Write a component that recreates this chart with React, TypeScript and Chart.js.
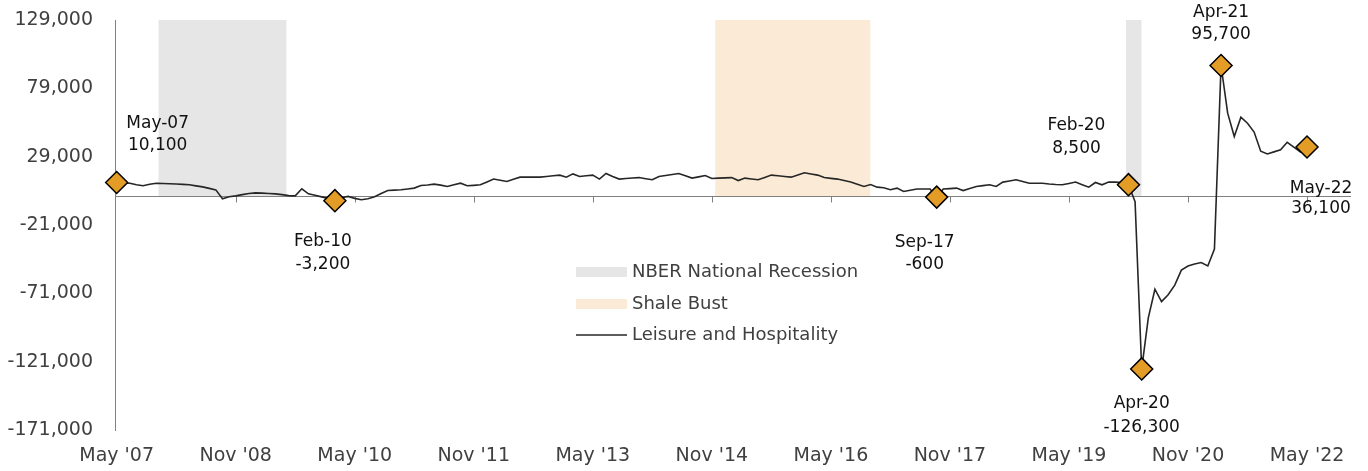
import React, { useEffect, useRef } from 'react';
import { Chart, registerables } from 'chart.js';

Chart.register(...registerables);

// Monthly year-over-year change, May 2007 (index 0) .. May 2022 (index 180)
const seriesValues: number[] = [
  10100, 9800, 9600, 8500, 7700, 8800, 9600, 9400, 9200, 9000,
  8700, 8400, 7600, 6900, 5800, 4700, -1800, -300, 300, 1200,
  2000, 2500, 2300, 2000, 1800, 1200, 500, 300, 5500, 1800,
  700, -400, -1500, -3200, -1000, -100, -1500, -2500, -1800, -300,
  2000, 4200, 4500, 4800, 5400, 6000, 7900, 8300, 8900, 8200,
  7200, 8500, 9600, 7700, 8000, 8400, 10500, 12600, 11700, 10800,
  12500, 14000, 14000, 14000, 14000, 14500, 15000, 15500, 14000, 16400,
  14500, 15000, 15500, 12600, 16700, 14500, 12600, 13000, 13400, 13700,
  12900, 12100, 14500, 15200, 16000, 16700, 15000, 13300, 14200, 15200,
  13000, 13300, 13500, 13700, 11500, 13300, 12700, 12100, 13800, 15500,
  15000, 14500, 14000, 15600, 17200, 16300, 15500, 13700, 13100, 12600,
  11500, 10400, 8800, 7200, 8600, 6700, 6300, 4800, 6000, 3500,
  4400, 5300, 5300, 5300, -600, 5300, 5600, 6000, 4200, 5700,
  7200, 7800, 8400, 7200, 10400, 11200, 12100, 10800, 9600, 9600,
  9600, 9000, 8600, 8400, 9400, 10400, 8500, 6700, 10100, 8400,
  10400, 10400, 10000, 8500, -4000, -126300, -89000, -68000, -77000, -72000,
  -65000, -54000, -51000, -49500, -48500, -51000, -38600, 95700, 60800, 43700,
  57900, 53500, 47000, 33000, 31000, 32500, 34000, 39500, 36000, 32500,
  36100,
];

const xAxisMin = -0.25;
const xAxisMax = 186.65; // axis runs on to late 2022
const xTickIdx: number[] = [0, 18, 36, 54, 72, 90, 108, 126, 144, 162, 180];
const xTickLabels: string[] = [
  "May '07", "Nov '08", "May '10", "Nov '11", "May '13", "Nov '14",
  "May '16", "Nov '17", "May '19", "Nov '20", "May '22",
];
const yTickValues: number[] = [129000, 79000, 29000, -21000, -71000, -121000, -171000];

const markerIdx: number[] = [0, 33, 124, 153, 155, 167, 180];
const markerLabels: string[] = ['May-07', 'Feb-10', 'Sep-17', 'Feb-20', 'Apr-20', 'Apr-21', 'May-22'];

// shaded periods as [start, end] in month index units
const recessionPeriods: number[][] = [[6.3, 25.7], [152.6, 155.0]];
const shalePeriods: number[][] = [[90.5, 114.0]];
const bandTop = 129000;

// label placement relative to marker: [dx, dy line1, dy line2]
const labelOffsets: number[][] = [
  [41, -59, -37],
  [-12, 41, 64],
  [-12, 45, 67],
  [-52, -59, -36],
  [0, 35, 59],
  [0, -53, -31],
  [14, 42, 62],
];

const FONT = '"DejaVu Sans", sans-serif';
const GRAY_BAND = '#E6E6E6';
const BEIGE_BAND = '#FAEAD6';
const LINE_COLOR = '#262626';
const MARKER_COLOR = '#E39C25';
const AXIS_COLOR = '#808080';
const TEXT_COLOR = '#404040';

const fmt = (v: number) => v.toLocaleString('en-US');

const zeroLinePlugin = {
  id: 'zeroLine',
  beforeDatasetDraw(chart: any, args: any) {
    if (args.index !== 1) return;
    const { ctx, chartArea, scales } = chart;
    const x = scales.x;
    const y = scales.y;
    const y0 = Math.round(y.getPixelForValue(0)) + 0.5;
    ctx.save();
    ctx.strokeStyle = AXIS_COLOR;
    ctx.lineWidth = 1;
    ctx.beginPath();
    ctx.moveTo(chartArea.left, y0);
    ctx.lineTo(chartArea.right, y0);
    xTickIdx.forEach((i) => {
      if (i === 0) return;
      const px = Math.round(x.getPixelForValue(i)) + 0.5;
      ctx.moveTo(px, y0);
      ctx.lineTo(px, y0 + 6);
    });
    ctx.stroke();
    ctx.restore();
  },
};

const annotationPlugin = {
  id: 'markerLabels',
  afterDatasetsDraw(chart: any) {
    const { ctx, scales } = chart;
    const x = scales.x;
    const y = scales.y;
    ctx.save();
    ctx.font = `17px ${FONT}`;
    ctx.fillStyle = '#111111';
    ctx.textAlign = 'center';
    ctx.textBaseline = 'middle';
    markerIdx.forEach((idx, k) => {
      const px = x.getPixelForValue(idx);
      const py = y.getPixelForValue(seriesValues[idx]);
      const [dx, dy1, dy2] = labelOffsets[k];
      ctx.fillText(markerLabels[k], px + dx, py + dy1);
      ctx.fillText(fmt(seriesValues[idx]), px + dx, py + dy2);
    });
    ctx.restore();
  },
};

const legendPlugin = {
  id: 'insideLegend',
  afterDraw(chart: any) {
    const { ctx } = chart;
    const rows = [
      { kind: 'box', color: GRAY_BAND, text: 'NBER National Recession', y: 272 },
      { kind: 'box', color: BEIGE_BAND, text: 'Shale Bust', y: 304 },
      { kind: 'line', color: LINE_COLOR, text: 'Leisure and Hospitality', y: 335 },
    ];
    ctx.save();
    ctx.font = `18px ${FONT}`;
    ctx.textAlign = 'left';
    ctx.textBaseline = 'middle';
    rows.forEach((r) => {
      if (r.kind === 'box') {
        ctx.fillStyle = r.color;
        ctx.fillRect(576, r.y - 5, 51, 10);
      } else {
        ctx.strokeStyle = r.color;
        ctx.lineWidth = 1.5;
        ctx.beginPath();
        ctx.moveTo(576, r.y);
        ctx.lineTo(627, r.y);
        ctx.stroke();
      }
      ctx.fillStyle = TEXT_COLOR;
      ctx.fillText(r.text, 632, r.y);
    });
    ctx.restore();
  },
};

function bandDataset(period: number[], color: string) {
  return {
    type: 'line' as const,
    data: [
      { x: period[0], y: bandTop },
      { x: period[1], y: bandTop },
    ],
    fill: 'origin',
    backgroundColor: color,
    borderWidth: 0,
    borderColor: 'rgba(0,0,0,0)',
    pointRadius: 0,
    tension: 0,
  };
}

export default function App() {
  const canvasRef = useRef<HTMLCanvasElement | null>(null);

  useEffect(() => {
    if (!canvasRef.current) return;
    const lineData = seriesValues.map((v, i) => ({ x: i, y: v }));
    const markerData = markerIdx.map((i) => ({ x: i, y: seriesValues[i] }));

    const chart = new Chart(canvasRef.current, {
      type: 'line',
      data: {
        datasets: [
          {
            data: markerData,
            showLine: false,
            clip: false,
            pointStyle: 'rectRot',
            pointRadius: 11,
            pointBackgroundColor: MARKER_COLOR,
            pointBorderColor: '#000000',
            pointBorderWidth: 1.5,
          } as any,
          {
            data: lineData,
            borderColor: LINE_COLOR,
            borderWidth: 1.6,
            pointRadius: 0,
            tension: 0,
            fill: false,
          } as any,
          ...recessionPeriods.map((p) => bandDataset(p, GRAY_BAND) as any),
          ...shalePeriods.map((p) => bandDataset(p, BEIGE_BAND) as any),
        ],
      },
      options: {
        animation: false,
        responsive: true,
        maintainAspectRatio: false,
        layout: { padding: { left: 0, top: 20, right: 17, bottom: 0 } },
        plugins: {
          legend: { display: false },
          tooltip: { enabled: false },
          title: { display: false },
        },
        scales: {
          x: {
            type: 'linear',
            min: xAxisMin,
            max: xAxisMax,
            grid: { display: false, drawTicks: false },
            border: { display: false },
            afterBuildTicks: (scale: any) => {
              scale.ticks = xTickIdx.map((v) => ({ value: v }));
            },
            afterFit: (scale: any) => {
              scale.height = 41;
              scale.paddingLeft = 0;
              scale.paddingRight = 0;
            },
            ticks: {
              autoSkip: false,
              maxRotation: 0,
              padding: 15,
              color: TEXT_COLOR,
              font: { family: FONT, size: 19 },
              callback: (_v: any, index: number) => xTickLabels[index],
            },
          },
          y: {
            type: 'linear',
            min: -171000,
            max: 129000,
            grid: { display: false, drawTicks: false },
            border: { display: true, color: AXIS_COLOR, width: 1 },
            afterBuildTicks: (scale: any) => {
              scale.ticks = yTickValues.map((v) => ({ value: v }));
            },
            afterFit: (scale: any) => {
              scale.width = 115;
              scale.paddingTop = 0;
              scale.paddingBottom = 0;
            },
            ticks: {
              padding: 22,
              color: TEXT_COLOR,
              font: { family: FONT, size: 19 },
              callback: (v: any) => fmt(Number(v)),
            },
          },
        },
      } as any,
      plugins: [zeroLinePlugin, annotationPlugin, legendPlugin],
    });

    return () => chart.destroy();
  }, []);

  return (
    <div style={{ position: 'fixed', left: 0, top: 0, width: 1368, height: 471, background: '#ffffff' }}>
      <canvas ref={canvasRef} />
    </div>
  );
}
